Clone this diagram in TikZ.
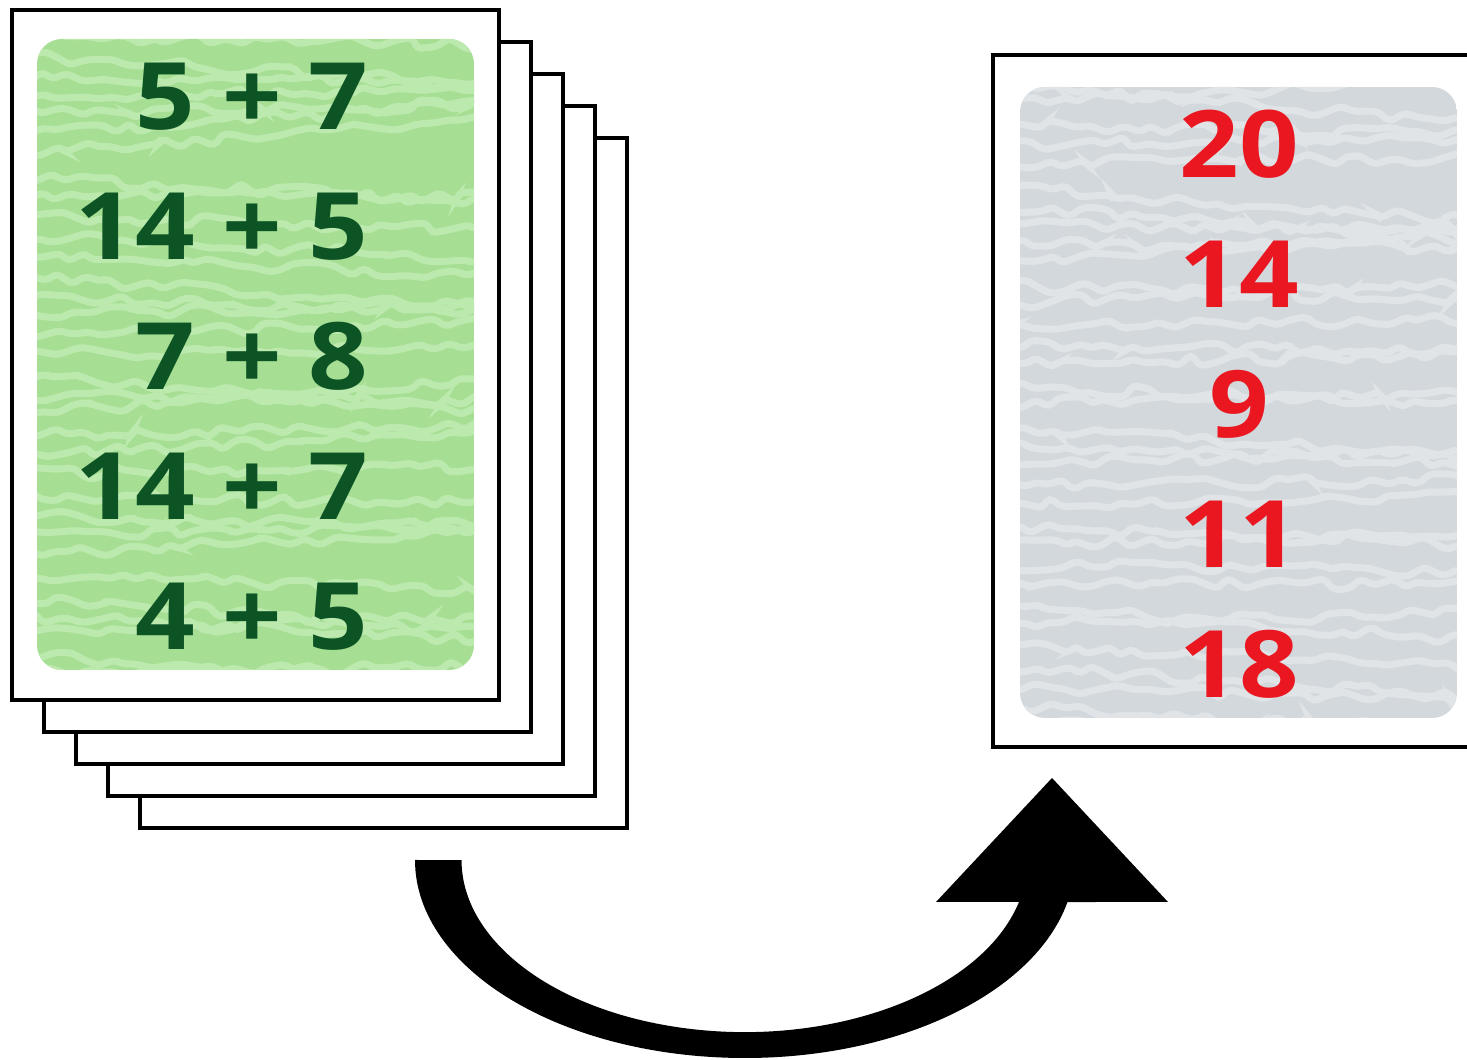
\documentclass[tikz,border=0pt]{standalone}
\usepackage{fontspec}
\newfontfamily\cardfont{Open Sans}[FakeStretch=1.12]
\usetikzlibrary{decorations.pathmorphing}

\definecolor{cardgreen}{RGB}{166,222,148}
\definecolor{cardgreenlt}{RGB}{188,233,173}
\definecolor{cardgray}{RGB}{210,216,220}
\definecolor{cardgraylt}{RGB}{224,228,231}
\definecolor{sumgreen}{RGB}{12,84,36}
\definecolor{answred}{RGB}{234,22,32}

\tikzset{
	card/.style={draw=black, line width=0.9pt, fill=white},
	panel/.style={rounded corners=0.25cm},
	cardtext/.style={inner sep=0pt, font=\cardfont\bfseries\fontsize{26.5}{26.5}\selectfont},
	sum/.style={cardtext, anchor=base east, text=sumgreen},
	answer/.style={cardtext, anchor=base, text=answred},
	marble/.style={decorate, decoration={random steps, segment length=4pt, amplitude=1.8pt}, rounded corners=1.5pt, line width=2pt}
}

\begin{document}
\begin{tikzpicture}
	\useasboundingbox (0,0) rectangle (14.67,10.60);
	
	%stack of cards, back to front
	\foreach \k in {4,3,2,1,0}
		\draw[card] ({0.12+0.32*\k},{3.60-0.32*\k}) rectangle ({4.99+0.32*\k},{10.50-0.32*\k});
	
	%green panel
	\begin{scope}
		\clip[panel] (0.37,3.90) rectangle (4.74,10.21);
		\fill[cardgreen] (0.37,3.90) rectangle (4.74,10.21);
		\pgfmathsetseed{7}
		\foreach \y in {3.85,4.05,...,10.40}
			\draw[marble, cardgreenlt] (0.0,\y) -- (5.1,{\y+0.4*rand});
	\end{scope}
	
	%sums
	\foreach \s [count=\i] in {5 + 7, 14 + 5, 7 + 8, 14 + 7, 4 + 5}
		\node[sum] (sum\i) at (3.69,{10.60-1.30*\i}) {\s};
	
	%answer card, cut off at the right
	\draw[line width=0.9pt] (14.67,10.05) -- (9.93,10.05) -- (9.93,3.13) -- (14.67,3.13);
	\begin{scope}
		\clip[panel] (10.20,3.42) rectangle (14.57,9.73);
		\fill[cardgray] (10.20,3.42) rectangle (14.57,9.73);
		\pgfmathsetseed{11}
		\foreach \y in {3.35,3.55,...,9.90}
			\draw[marble, cardgraylt] (9.8,\y) -- (14.9,{\y+0.4*rand});
	\end{scope}
	
	%answers
	\foreach \a [count=\i] in {20, 14, 9, 11, 18}
		\node[answer] (ans\i) at (12.39,{10.12-1.30*\i}) {\a};
	
	%curved arrow
	\fill (4.15,2.00) arc[start angle=180, end angle=347.75, x radius=3.30, y radius=1.98]
		-- (11.68,1.58) -- (10.52,2.82) -- (9.36,1.58) -- (10.19,1.58)
		arc[start angle=345.9, end angle=180, x radius=2.83, y radius=1.72] -- cycle;
\end{tikzpicture}
\end{document}
